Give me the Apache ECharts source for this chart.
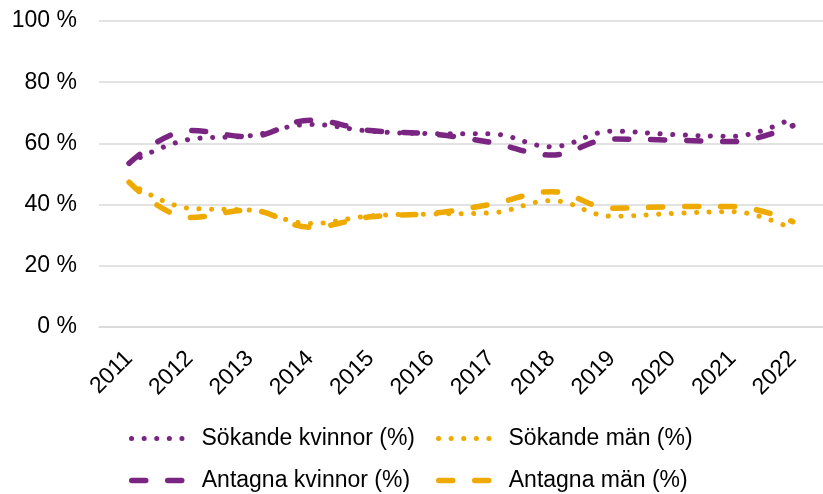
<!DOCTYPE html>
<html>
<head>
<meta charset="utf-8">
<script src="https://cdn.jsdelivr.net/npm/echarts@6/dist/echarts.min.js"></script>
<style>
html, body { margin: 0; padding: 0; background: #fff; }
#main { width: 823px; height: 494px; }
</style>
</head>
<body>
<div id="main"></div>
<script>
// år och andelar (%)
var years = ['2011', '2012', '2013', '2014', '2015', '2016', '2017', '2018', '2019', '2020', '2021', '2022'];
var sokandeKvinnor = [53.5, 61.3, 62.5, 66.2, 64.0, 63.2, 63.1, 58.9, 64.0, 62.9, 62.3, 68.3];
var sokandeMan = [47.3, 38.8, 38.2, 33.8, 36.3, 36.9, 37.3, 41.3, 36.2, 37.1, 37.7, 32.0];
var antagnaKvinnor = [53.5, 64.2, 62.2, 67.6, 64.2, 63.1, 60.3, 56.2, 61.4, 61.1, 60.6, 65.8];
var antagnaMan = [47.3, 35.8, 38.2, 32.6, 36.0, 37.1, 40.1, 44.2, 38.8, 39.3, 39.4, 34.4];

var purple = '#7a2582';
var yellow = '#eeaa00';
var font = 'Liberation Sans, Arial, sans-serif';

function dotted(color) {
	return { color: color, width: 5, type: [0.1, 12.5], cap: 'round' };
}
function dashed(color) {
	return { color: color, width: 5.5, type: [14, 22], cap: 'round' };
}
// en legend per post så att kolumnerna hamnar rätt
function legendItem(name, left, top) {
	return {
		data: [name],
		left: left,
		top: top,
		itemWidth: 63,
		itemHeight: 14,
		itemStyle: { opacity: 0 },
		lineStyle: { width: 'inherit', type: 'inherit', cap: 'inherit' },
		textStyle: {
			fontFamily: font,
			fontSize: 23,
			color: '#000',
			padding: [0, 0, 0, 2]
		}
	};
}

var chart = echarts.init(document.getElementById('main'));
var option = {
	animation: false,
	backgroundColor: '#fff',
	grid: { left: 99, right: 0, top: 21, bottom: 167 },
	legend: [
		legendItem('Sökande kvinnor (%)', 124, 422),
		legendItem('Sökande män (%)', 431, 422),
		legendItem('Antagna kvinnor (%)', 124, 464),
		legendItem('Antagna män (%)', 431, 464)
	],
	xAxis: {
		type: 'category',
		data: years,
		boundaryGap: true,
		axisLine: { show: true, lineStyle: { color: '#d9d9d9', width: 1.5 } },
		axisTick: { show: false },
		axisLabel: {
			rotate: 45,
			interval: 0,
			margin: 28,
			fontFamily: font,
			fontSize: 23,
			color: '#000'
		}
	},
	yAxis: {
		type: 'value',
		min: 0,
		max: 100,
		interval: 20,
		axisLine: { show: false },
		axisTick: { show: false },
		axisLabel: {
			formatter: '{value} %',
			margin: 22,
			fontFamily: font,
			fontSize: 23,
			color: '#000'
		},
		splitLine: { lineStyle: { color: '#d9d9d9', width: 1.5 } }
	},
	series: [
		{ name: 'Sökande kvinnor (%)', type: 'line', data: sokandeKvinnor, smooth: 0.4, symbol: 'none', lineStyle: dotted(purple), itemStyle: { color: purple } },
		{ name: 'Sökande män (%)', type: 'line', data: sokandeMan, smooth: 0.4, symbol: 'none', lineStyle: dotted(yellow), itemStyle: { color: yellow } },
		{ name: 'Antagna kvinnor (%)', type: 'line', data: antagnaKvinnor, smooth: 0.4, symbol: 'none', lineStyle: dashed(purple), itemStyle: { color: purple } },
		{ name: 'Antagna män (%)', type: 'line', data: antagnaMan, smooth: 0.4, symbol: 'none', lineStyle: dashed(yellow), itemStyle: { color: yellow } }
	]
};
chart.setOption(option);
</script>
</body>
</html>
